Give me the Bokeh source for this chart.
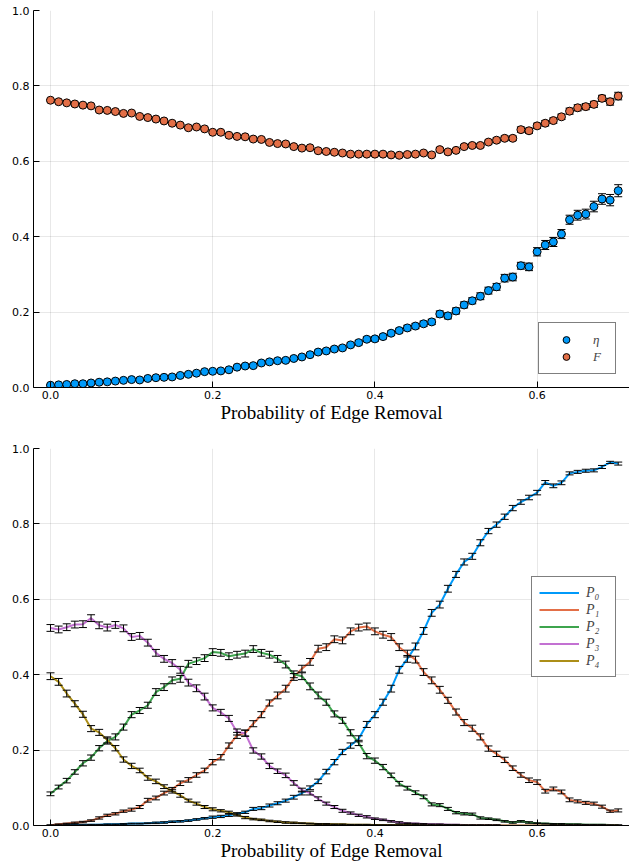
import numpy as np
from bokeh.plotting import figure
from bokeh.layouts import column
from bokeh.models import (Range1d, Whisker, TeeHead, ColumnDataSource, FixedTicker,
                          PrintfTickFormatter)
from bokeh.embed import file_html
from bokeh.resources import INLINE

# probability of edge removal, 0.00 .. 0.70
prob = np.round(np.arange(71) * 0.01, 2)

# ---- top panel: eta and F ----
eta = [0.006, 0.007, 0.008, 0.010, 0.010, 0.012, 0.014, 0.015, 0.017, 0.019,
       0.021, 0.020, 0.024, 0.026, 0.027, 0.028, 0.032, 0.035, 0.038, 0.042,
       0.043, 0.044, 0.047, 0.054, 0.057, 0.058, 0.065, 0.068, 0.071, 0.072,
       0.077, 0.081, 0.087, 0.094, 0.097, 0.102, 0.105, 0.113, 0.119, 0.128,
       0.129, 0.135, 0.144, 0.151, 0.158, 0.163, 0.169, 0.174, 0.195, 0.190,
       0.203, 0.219, 0.230, 0.242, 0.257, 0.267, 0.290, 0.293, 0.323, 0.320,
       0.360, 0.378, 0.386, 0.407, 0.445, 0.457, 0.460, 0.480, 0.500, 0.497,
       0.522]
eta_err = [0.001, 0.001, 0.001, 0.001, 0.001, 0.002, 0.002, 0.002, 0.002, 0.002,
           0.002, 0.002, 0.002, 0.002, 0.002, 0.003, 0.003, 0.003, 0.003, 0.003,
           0.003, 0.003, 0.003, 0.003, 0.004, 0.004, 0.004, 0.004, 0.004, 0.004,
           0.004, 0.004, 0.005, 0.005, 0.005, 0.005, 0.005, 0.005, 0.006, 0.006,
           0.006, 0.006, 0.006, 0.006, 0.007, 0.007, 0.007, 0.007, 0.008, 0.008,
           0.008, 0.008, 0.008, 0.009, 0.009, 0.009, 0.010, 0.010, 0.009, 0.010,
           0.011, 0.012, 0.012, 0.012, 0.012, 0.013, 0.013, 0.014, 0.014, 0.015,
           0.016]
fid = [0.762, 0.758, 0.755, 0.752, 0.749, 0.747, 0.736, 0.735, 0.732, 0.727,
       0.728, 0.719, 0.716, 0.712, 0.707, 0.701, 0.696, 0.689, 0.691, 0.686,
       0.677, 0.677, 0.669, 0.666, 0.665, 0.659, 0.658, 0.650, 0.647, 0.646,
       0.639, 0.635, 0.636, 0.628, 0.626, 0.624, 0.622, 0.619, 0.619, 0.619,
       0.619, 0.619, 0.617, 0.616, 0.618, 0.619, 0.622, 0.617, 0.631, 0.625,
       0.629, 0.639, 0.642, 0.642, 0.651, 0.656, 0.661, 0.661, 0.684, 0.681,
       0.694, 0.701, 0.708, 0.718, 0.733, 0.742, 0.745, 0.751, 0.767, 0.758,
       0.773]
fid_err = [0.002, 0.002, 0.002, 0.002, 0.002, 0.002, 0.002, 0.002, 0.002, 0.002,
           0.002, 0.002, 0.002, 0.002, 0.003, 0.003, 0.003, 0.003, 0.003, 0.003,
           0.003, 0.003, 0.003, 0.003, 0.003, 0.003, 0.003, 0.003, 0.003, 0.003,
           0.003, 0.003, 0.003, 0.003, 0.004, 0.004, 0.004, 0.004, 0.004, 0.004,
           0.004, 0.004, 0.004, 0.004, 0.004, 0.004, 0.004, 0.004, 0.005, 0.005,
           0.005, 0.005, 0.005, 0.005, 0.005, 0.006, 0.006, 0.006, 0.007, 0.007,
           0.007, 0.007, 0.007, 0.007, 0.008, 0.008, 0.008, 0.008, 0.008, 0.009,
           0.010]

# ---- bottom panel: P_0 .. P_4 ----
P0 = [0.000, 0.000, 0.001, 0.001, 0.001, 0.002, 0.002, 0.003, 0.003, 0.004,
      0.005, 0.005, 0.006, 0.007, 0.008, 0.010, 0.011, 0.013, 0.016, 0.019,
      0.022, 0.024, 0.027, 0.031, 0.035, 0.044, 0.046, 0.053, 0.059, 0.066,
      0.075, 0.086, 0.100, 0.117, 0.143, 0.168, 0.195, 0.212, 0.230, 0.268,
      0.294, 0.327, 0.363, 0.413, 0.442, 0.475, 0.516, 0.564, 0.586, 0.628,
      0.666, 0.699, 0.714, 0.750, 0.781, 0.798, 0.819, 0.842, 0.858, 0.870,
      0.883, 0.910, 0.901, 0.909, 0.934, 0.938, 0.941, 0.942, 0.951, 0.963,
      0.960]
P0_err = [0.000, 0.000, 0.001, 0.001, 0.001, 0.001, 0.001, 0.001, 0.001, 0.001,
          0.001, 0.001, 0.001, 0.002, 0.002, 0.002, 0.002, 0.002, 0.002, 0.002,
          0.003, 0.003, 0.003, 0.003, 0.003, 0.004, 0.004, 0.004, 0.004, 0.004,
          0.005, 0.005, 0.005, 0.006, 0.006, 0.007, 0.007, 0.007, 0.008, 0.008,
          0.008, 0.008, 0.009, 0.009, 0.009, 0.009, 0.009, 0.009, 0.009, 0.009,
          0.008, 0.008, 0.008, 0.008, 0.007, 0.007, 0.007, 0.007, 0.006, 0.006,
          0.006, 0.005, 0.005, 0.005, 0.004, 0.004, 0.004, 0.004, 0.004, 0.003,
          0.004]
P1 = [0.001, 0.003, 0.005, 0.007, 0.009, 0.013, 0.020, 0.027, 0.031, 0.038,
      0.042, 0.049, 0.067, 0.073, 0.086, 0.096, 0.112, 0.121, 0.134, 0.146,
      0.168, 0.181, 0.212, 0.239, 0.245, 0.270, 0.294, 0.325, 0.345, 0.363,
      0.394, 0.416, 0.434, 0.469, 0.473, 0.494, 0.491, 0.515, 0.525, 0.528,
      0.515, 0.506, 0.500, 0.473, 0.456, 0.440, 0.407, 0.385, 0.360, 0.332,
      0.301, 0.273, 0.258, 0.235, 0.204, 0.190, 0.174, 0.152, 0.134, 0.120,
      0.115, 0.091, 0.097, 0.089, 0.068, 0.064, 0.060, 0.058, 0.050, 0.038,
      0.040]
P1_err = [0.001, 0.001, 0.001, 0.002, 0.002, 0.002, 0.003, 0.003, 0.003, 0.003,
          0.004, 0.004, 0.005, 0.005, 0.005, 0.005, 0.006, 0.006, 0.006, 0.006,
          0.007, 0.007, 0.007, 0.008, 0.008, 0.008, 0.008, 0.008, 0.009, 0.009,
          0.009, 0.009, 0.009, 0.009, 0.009, 0.009, 0.009, 0.009, 0.009, 0.009,
          0.009, 0.009, 0.009, 0.009, 0.009, 0.009, 0.009, 0.009, 0.009, 0.008,
          0.008, 0.008, 0.008, 0.008, 0.007, 0.007, 0.007, 0.006, 0.006, 0.006,
          0.006, 0.005, 0.005, 0.005, 0.005, 0.004, 0.004, 0.004, 0.004, 0.003,
          0.004]
P2 = [0.084, 0.102, 0.119, 0.142, 0.165, 0.180, 0.205, 0.224, 0.235, 0.261,
      0.294, 0.305, 0.319, 0.354, 0.367, 0.385, 0.389, 0.429, 0.436, 0.444,
      0.460, 0.458, 0.449, 0.453, 0.456, 0.468, 0.458, 0.453, 0.442, 0.427,
      0.401, 0.396, 0.369, 0.345, 0.327, 0.296, 0.279, 0.246, 0.219, 0.184,
      0.172, 0.155, 0.133, 0.111, 0.099, 0.087, 0.076, 0.056, 0.054, 0.044,
      0.034, 0.031, 0.030, 0.020, 0.018, 0.015, 0.011, 0.008, 0.011, 0.008,
      0.006, 0.005, 0.004, 0.004, 0.003, 0.003, 0.002, 0.002, 0.002, 0.001,
      0.001]
P2_err = [0.005, 0.005, 0.006, 0.006, 0.007, 0.007, 0.007, 0.008, 0.008, 0.008,
          0.008, 0.008, 0.008, 0.009, 0.009, 0.009, 0.009, 0.009, 0.009, 0.009,
          0.009, 0.009, 0.009, 0.009, 0.009, 0.009, 0.009, 0.009, 0.009, 0.009,
          0.009, 0.009, 0.009, 0.009, 0.008, 0.008, 0.008, 0.008, 0.007, 0.007,
          0.007, 0.007, 0.006, 0.006, 0.005, 0.005, 0.005, 0.004, 0.004, 0.004,
          0.003, 0.003, 0.003, 0.003, 0.002, 0.002, 0.002, 0.002, 0.002, 0.002,
          0.001, 0.001, 0.001, 0.001, 0.001, 0.001, 0.001, 0.001, 0.001, 0.001,
          0.001]
P3 = [0.524, 0.520, 0.526, 0.533, 0.534, 0.550, 0.531, 0.525, 0.532, 0.523,
      0.500, 0.503, 0.485, 0.458, 0.442, 0.431, 0.413, 0.379, 0.364, 0.342,
      0.312, 0.300, 0.284, 0.248, 0.245, 0.199, 0.183, 0.158, 0.144, 0.133,
      0.113, 0.094, 0.086, 0.071, 0.058, 0.049, 0.039, 0.033, 0.027, 0.023,
      0.018, 0.015, 0.011, 0.008, 0.006, 0.005, 0.004, 0.003, 0.003, 0.002,
      0.002, 0.001, 0.001, 0.001, 0.001, 0.001, 0.000, 0.000, 0.000, 0.000,
      0.000, 0.000, 0.000, 0.000, 0.000, 0.000, 0.000, 0.000, 0.000, 0.000,
      0.000]
P3_err = [0.009, 0.009, 0.009, 0.009, 0.009, 0.009, 0.009, 0.009, 0.009, 0.009,
          0.009, 0.009, 0.009, 0.009, 0.009, 0.009, 0.009, 0.009, 0.009, 0.009,
          0.008, 0.008, 0.008, 0.008, 0.008, 0.007, 0.007, 0.007, 0.006, 0.006,
          0.006, 0.005, 0.005, 0.005, 0.004, 0.004, 0.004, 0.003, 0.003, 0.003,
          0.002, 0.002, 0.002, 0.002, 0.001, 0.001, 0.001, 0.001, 0.001, 0.001,
          0.001, 0.001, 0.001, 0.001, 0.001, 0.001, 0.000, 0.000, 0.000, 0.000,
          0.000, 0.000, 0.000, 0.000, 0.000, 0.000, 0.000, 0.000, 0.000, 0.000,
          0.000]
P4 = [0.396, 0.381, 0.350, 0.323, 0.295, 0.257, 0.247, 0.227, 0.205, 0.175,
      0.158, 0.146, 0.126, 0.117, 0.103, 0.091, 0.080, 0.066, 0.058, 0.049,
      0.043, 0.039, 0.035, 0.028, 0.021, 0.017, 0.015, 0.012, 0.010, 0.008,
      0.007, 0.006, 0.005, 0.004, 0.004, 0.003, 0.003, 0.002, 0.002, 0.002,
      0.001, 0.001, 0.001, 0.001, 0.001, 0.001, 0.000, 0.000, 0.000, 0.000,
      0.000, 0.000, 0.000, 0.000, 0.000, 0.000, 0.000, 0.000, 0.000, 0.000,
      0.000, 0.000, 0.000, 0.000, 0.000, 0.000, 0.000, 0.000, 0.000, 0.000,
      0.000]
P4_err = [0.009, 0.009, 0.009, 0.008, 0.008, 0.008, 0.008, 0.008, 0.007, 0.007,
          0.007, 0.006, 0.006, 0.006, 0.005, 0.005, 0.005, 0.004, 0.004, 0.004,
          0.004, 0.003, 0.003, 0.003, 0.003, 0.002, 0.002, 0.002, 0.002, 0.002,
          0.002, 0.001, 0.001, 0.001, 0.001, 0.001, 0.001, 0.001, 0.001, 0.001,
          0.001, 0.001, 0.001, 0.001, 0.001, 0.001, 0.000, 0.000, 0.000, 0.000,
          0.000, 0.000, 0.000, 0.000, 0.000, 0.000, 0.000, 0.000, 0.000, 0.000,
          0.000, 0.000, 0.000, 0.000, 0.000, 0.000, 0.000, 0.000, 0.000, 0.000,
          0.000]

x_ticks = [0.0, 0.2, 0.4, 0.6]
y_ticks = [0.0, 0.2, 0.4, 0.6, 0.8, 1.0]
x_label = "Probability of Edge Removal"

BLUE, ORANGE, GREEN, PURPLE, OLIVE = "#009AFA", "#E36F47", "#3EA44E", "#C371D2", "#AC8E18"
TICK_FONT = "DejaVu Sans"
SERIF = "Liberation Serif"


def make_panel(height, top, bottom):
    p = figure(width=629, height=height,
               x_range=Range1d(-0.02096, 0.7139), y_range=Range1d(0.0, 1.0),
               output_backend="svg", toolbar_location=None,
               min_border_left=33, min_border_right=0,
               min_border_top=top, min_border_bottom=bottom)
    p.outline_line_color = None
    p.background_fill_color = "white"
    p.border_fill_color = "white"
    p.xaxis.ticker = FixedTicker(ticks=x_ticks)
    p.yaxis.ticker = FixedTicker(ticks=y_ticks)
    for ax in (p.xaxis, p.yaxis):
        ax.formatter = PrintfTickFormatter(format="%.1f")
        ax.major_tick_in = 6
        ax.major_tick_out = 0
        ax.minor_tick_line_color = None
        ax.axis_line_color = "black"
        ax.major_tick_line_color = "black"
        ax.major_label_text_font = TICK_FONT
        ax.major_label_text_font_size = "11px"
        ax.major_label_text_color = "black"
    p.xaxis.major_label_standoff = 3
    p.yaxis.major_label_standoff = 4
    p.xaxis.axis_label = x_label
    p.xaxis.axis_label_text_font = SERIF
    p.xaxis.axis_label_text_font_style = "normal"
    p.xaxis.axis_label_text_font_size = "19px"
    p.xaxis.axis_label_text_color = "black"
    p.xaxis.axis_label_standoff = 0
    p.grid.grid_line_color = "black"
    p.grid.grid_line_alpha = 0.09
    p.grid.grid_line_width = 1
    return p


def whisker(p, src, level):
    w = Whisker(source=src, base="x", upper="hi", lower="lo", dimension="height",
                line_color="black", line_width=1, level=level,
                upper_head=TeeHead(size=8, line_color="black", line_width=1),
                lower_head=TeeHead(size=8, line_color="black", line_width=1))
    p.add_layout(w)


# top panel
p1 = make_panel(425, 10, 38)
for vals, errs, col, lab in ((eta, eta_err, BLUE, "η"), (fid, fid_err, ORANGE, "F")):
    v = np.array(vals)
    e = np.array(errs)
    src = ColumnDataSource(dict(x=prob, y=v, hi=v + e, lo=v - e))
    whisker(p1, src, "underlay")
    p1.scatter("x", "y", source=src, size=8, fill_color=col, line_color="black",
               line_width=1, legend_label=lab)

lg = p1.legend[0]
lg.location = (505, 13)
lg.padding = 8
lg.spacing = 0
lg.margin = 0
lg.glyph_width = 38
lg.glyph_height = 17
lg.label_standoff = 8
lg.label_width = 14
lg.label_text_font = SERIF
lg.label_text_font_style = "italic"
lg.label_text_font_size = "13px"
lg.border_line_color = "black"
lg.border_line_width = 1
lg.background_fill_alpha = 1.0

# bottom panel
p2 = make_panel(440, 23, 40)
series = ((P0, P0_err, BLUE, "P₀"), (P1, P1_err, ORANGE, "P₁"), (P2, P2_err, GREEN, "P₂"),
          (P3, P3_err, PURPLE, "P₃"), (P4, P4_err, OLIVE, "P₄"))
for vals, errs, col, lab in series:
    v = np.array(vals)
    e = np.array(errs)
    src = ColumnDataSource(dict(x=prob, y=v, hi=v + e, lo=v - e))
    p2.line("x", "y", source=src, line_color=col, line_width=2, legend_label=lab)
    whisker(p2, src, "overlay")

lg2 = p2.legend[0]
lg2.location = (498, 148)
lg2.padding = 7
lg2.spacing = 0
lg2.margin = 0
lg2.glyph_width = 40
lg2.glyph_height = 17
lg2.label_standoff = 7
lg2.label_width = 22
lg2.label_text_font = SERIF
lg2.label_text_font_style = "italic"
lg2.label_text_font_size = "14px"
lg2.border_line_color = "black"
lg2.border_line_width = 1
lg2.background_fill_alpha = 1.0

layout = column(p1, p2, spacing=0)
open("out.html", "w").write(file_html(layout, INLINE))
